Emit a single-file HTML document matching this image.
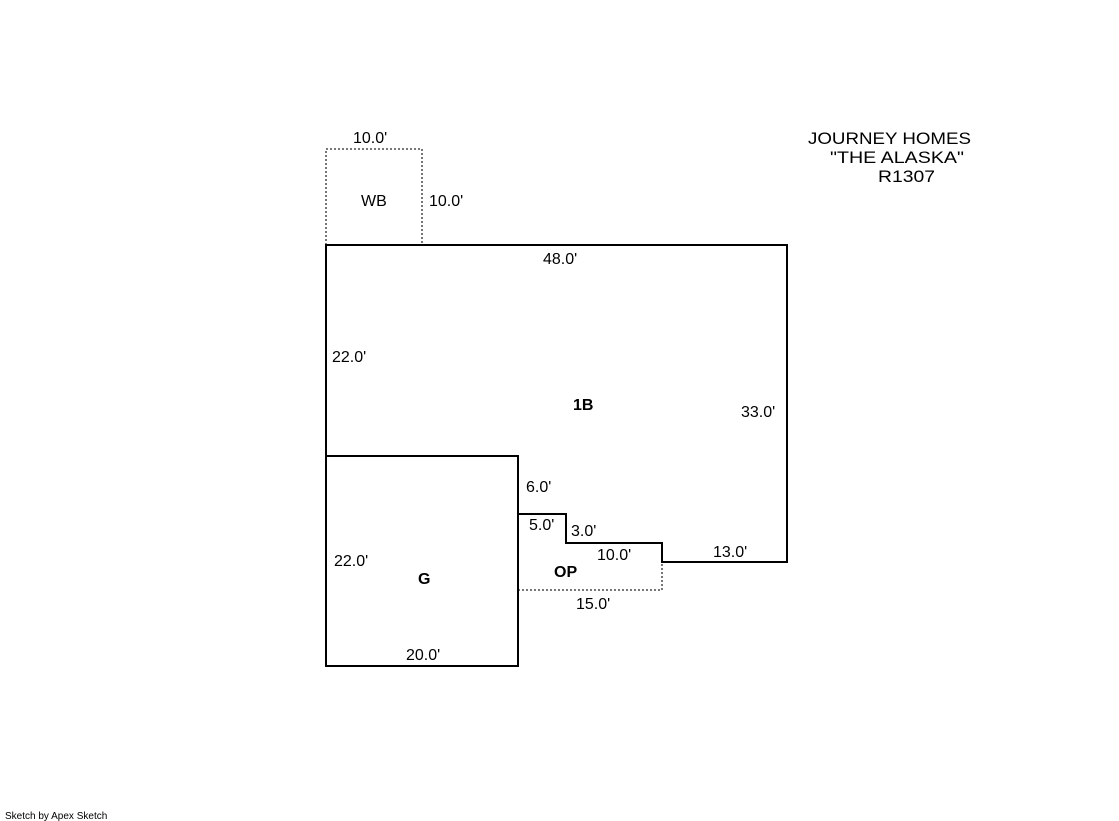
<!DOCTYPE html>
<html><head><style>
html,body{margin:0;padding:0;background:#fff;}
svg{display:block;}
text{font-family:"Liberation Sans",Arial,sans-serif;font-size:16px;fill:#000;}
</style></head><body>
<svg width="1119" height="821" viewBox="0 0 1119 821" xmlns="http://www.w3.org/2000/svg">
<g fill="none" stroke="#777" stroke-width="2" stroke-dasharray="2,2">
<polyline points="326,245 326,149 422,149 422,245"/>
<polyline points="518,590 662,590 662,562"/>
</g>
<g fill="none" stroke="#000" stroke-width="2">
<polygon points="326,245 787,245 787,562 662,562 662,543 566,543 566,514 518,514 518,456 326,456"/>
<rect x="326" y="456" width="192" height="210"/>
</g>
<text x="353" y="143">10.0'</text>
<text x="361" y="206">WB</text>
<text x="429" y="206">10.0'</text>
<text x="543" y="264">48.0'</text>
<text x="332" y="362">22.0'</text>
<text x="573" y="410" font-weight="bold">1B</text>
<text x="741" y="417">33.0'</text>
<text x="526" y="492">6.0'</text>
<text x="529" y="530">5.0'</text>
<text x="571" y="536">3.0'</text>
<text x="597" y="560">10.0'</text>
<text x="713" y="557">13.0'</text>
<text x="554" y="577" font-weight="bold">OP</text>
<text x="334" y="566">22.0'</text>
<text x="418" y="584" font-weight="bold">G</text>
<text x="576" y="609">15.0'</text>
<text x="406" y="660">20.0'</text>
<text x="808" y="144" style="font-size:17px" textLength="163" lengthAdjust="spacingAndGlyphs">JOURNEY HOMES</text>
<text x="830" y="163" style="font-size:17px" textLength="134" lengthAdjust="spacingAndGlyphs">"THE ALASKA"</text>
<text x="878" y="182" style="font-size:17px" textLength="57" lengthAdjust="spacingAndGlyphs">R1307</text>
<text x="5" y="819" style="font-size:10px">Sketch by Apex Sketch</text>
</svg>
</body></html>
